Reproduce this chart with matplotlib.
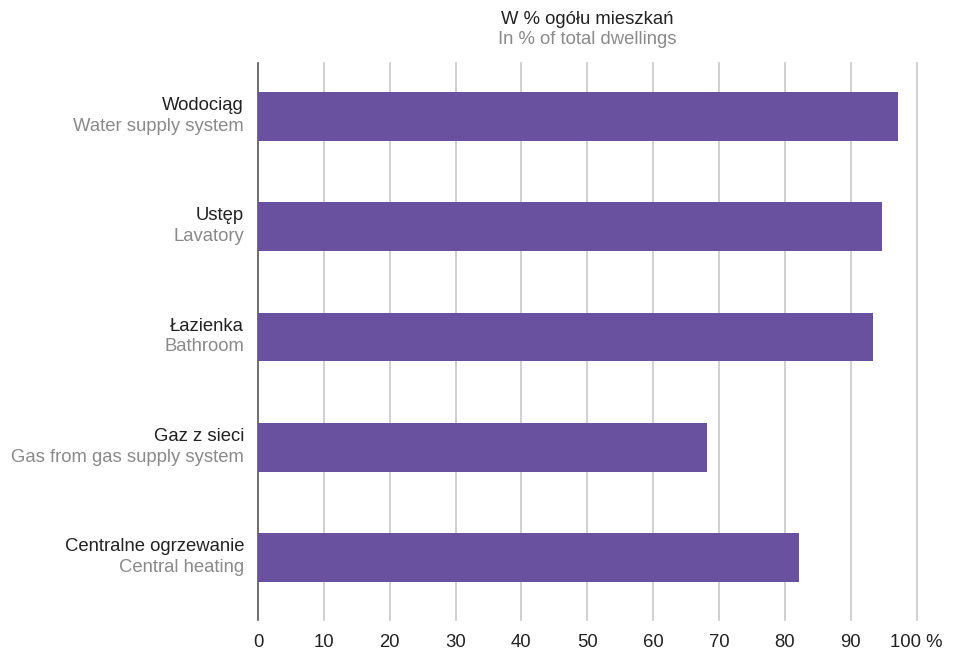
import matplotlib.pyplot as plt

plt.rcParams['font.family'] = ['Liberation Sans', 'DejaVu Sans']

labels_pl = ["Wodociąg", "Ustęp", "Łazienka", "Gaz z sieci", "Centralne ogrzewanie"]
labels_en = ["Water supply system", "Lavatory", "Bathroom",
             "Gas from gas supply system", "Central heating"]
values = [97.2, 94.8, 93.4, 68.2, 82.2]
ticks = [0, 10, 20, 30, 40, 50, 60, 70, 80, 90, 100]
tick_labels = ["0", "10", "20", "30", "40", "50", "60", "70", "80", "90", "100 %"]

fs = 13.3
fig = plt.figure(figsize=(9.57, 6.49), dpi=100)
ax = fig.add_axes([258 / 957, 1 - 620 / 649, (916.5 - 258) / 957, (620 - 63) / 649])

y = list(range(len(values)))
ax.barh(y, values, height=0.444, color="#6a51a0", zorder=3)
ax.set_ylim(4.567, -0.485)
ax.set_xlim(0, 100)

for t in ticks[1:]:
    ax.axvline(t, color="#c8c8c8", lw=1.2, zorder=1, clip_on=False)

for s in ["top", "right", "bottom"]:
    ax.spines[s].set_visible(False)
ax.spines["left"].set_color("#555555")
ax.spines["left"].set_linewidth(1.2)

ax.set_xticks(ticks)
ax.set_xticklabels(tick_labels, fontsize=fs, color="#222222")
ax.tick_params(axis="x", length=0, pad=10)
ax.set_yticks([])

for i in y:
    ax.annotate(labels_pl[i], (0, i), xytext=(-10, 7.8), textcoords="offset points",
                ha="right", va="center", fontsize=fs, color="#222222")
    ax.annotate(labels_en[i], (0, i), xytext=(-10, -7.2), textcoords="offset points",
                ha="right", va="center", fontsize=fs, color="#8a8a8a")

fig.text(0.5 * (258 + 916.5) / 957, 1 - 20 / 649, "W % ogółu mieszkań",
         ha="center", va="center", fontsize=fs, color="#222222")
fig.text(0.5 * (258 + 916.5) / 957, 1 - 39 / 649, "In % of total dwellings",
         ha="center", va="center", fontsize=fs, color="#8a8a8a")

fig.savefig("out.png", dpi=100)
